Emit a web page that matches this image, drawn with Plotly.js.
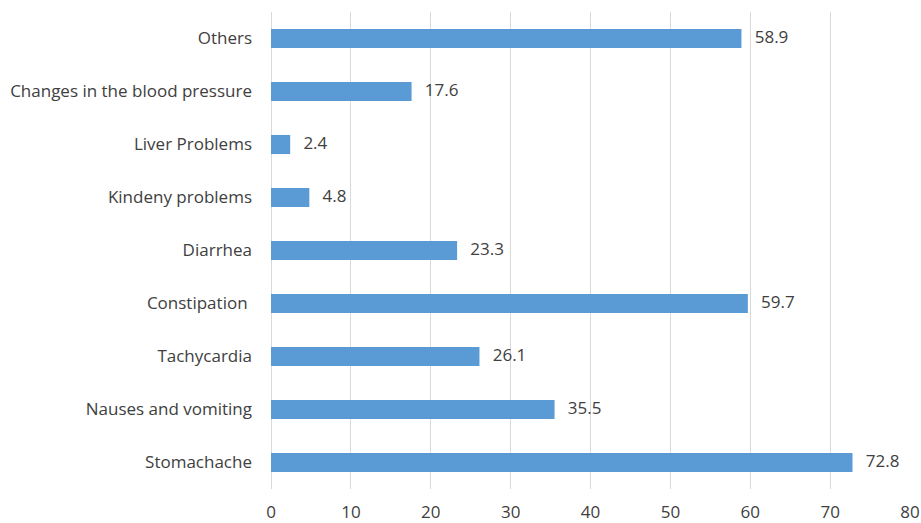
<!DOCTYPE html>
<html>
<head>
<meta charset="utf-8">
<script src="https://cdn.plot.ly/plotly-3.0.1.min.js"></script>
<style>html,body{margin:0;padding:0;background:#fff;}#chart{width:921px;height:523px;}</style>
</head>
<body>
<div id="chart"></div>
<script>
const categories = ["Stomachache", "Nauses and vomiting", "Tachycardia", "Constipation ", "Diarrhea", "Kindeny problems", "Liver Problems", "Changes in the blood pressure", "Others"];
const values = [72.8, 35.5, 26.1, 59.7, 23.3, 4.8, 2.4, 17.6, 58.9];
const labels = ["72.8", "35.5", "26.1", "59.7", "23.3", "4.8", "2.4", "17.6", "58.9"];
const xTicks = [0, 10, 20, 30, 40, 50, 60, 70, 80];

const font = {family: "'Open Sans', sans-serif", size: 17, color: "#404040"};

const bars = {
  type: "bar", orientation: "h",
  x: values, y: categories,
  marker: {color: "#5B9BD5"},
  hoverinfo: "skip"
};
const txt = {
  type: "scatter", mode: "text",
  x: values, y: categories,
  text: labels.map(l => "\u00a0\u00a0\u00a0" + l),
  textposition: "middle right",
  textfont: font,
  hoverinfo: "skip"
};

Plotly.newPlot("chart", [bars, txt], {
  width: 921, height: 523,
  margin: {l: 271, r: 11, t: 12, b: 34},
  paper_bgcolor: "#fff", plot_bgcolor: "#fff",
  showlegend: false,
  bargap: 0.64,
  font: font,
  xaxis: {
    range: [0, 80], tickvals: xTicks, ticktext: xTicks.map(String),
    showgrid: true, gridcolor: "#d9d9d9", gridwidth: 1,
    zeroline: true, zerolinecolor: "#d9d9d9", zerolinewidth: 1,
    showline: false, ticks: "", ticklabelstandoff: 11,
    tickfont: font, fixedrange: true
  },
  yaxis: {
    type: "category", categoryorder: "array", categoryarray: categories,
    showgrid: false, zeroline: false, showline: false,
    ticks: "", ticklabelstandoff: 18, tickfont: font, fixedrange: true
  }
}, {staticPlot: true});
</script>
</body>
</html>
